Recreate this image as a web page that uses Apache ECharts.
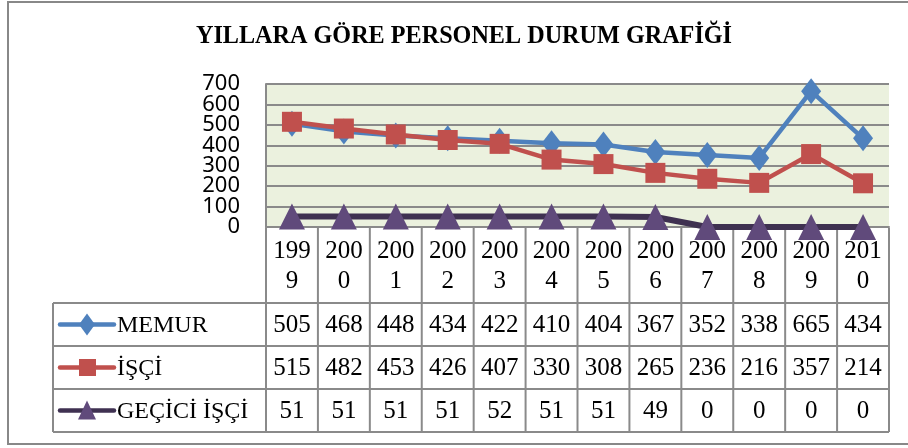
<!DOCTYPE html>
<html lang="tr">
<head>
    <meta charset="UTF-8">
    <title>Yıllara Göre Personel Durum Grafiği</title>
    <script src="https://cdn.jsdelivr.net/npm/echarts@6/dist/echarts.min.js"></script>
    <style>
        html, body { margin: 0; padding: 0; background: #fff; }
        #main { width: 908px; height: 448px; }
    </style>
</head>
<body>
<div id="main"></div>

<script>
    // veriler
    var years = ['1999', '2000', '2001', '2002', '2003', '2004', '2005', '2006', '2007', '2008', '2009', '2010'];
    var memur = [505, 468, 448, 434, 422, 410, 404, 367, 352, 338, 665, 434];
    var isci = [515, 482, 453, 426, 407, 330, 308, 265, 236, 216, 357, 214];
    var geciciIsci = [51, 51, 51, 51, 52, 51, 51, 49, 0, 0, 0, 0];
    var seriesNames = ['MEMUR', 'İŞÇİ', 'GEÇİCİ İŞÇİ'];
    var yTicks = [0, 100, 200, 300, 400, 500, 600, 700];
    var titleText = 'YILLARA GÖRE PERSONEL DURUM GRAFİĞİ';

    var colors = ['#4F81BD', '#C0504D', '#3F3151'];
    var markerColors = ['#4F81BD', '#C0504D', '#604A7B'];
    var symbols = ['diamond', 'rect', 'triangle'];
    var symbolSizes = [[20, 26], [20, 20], [26, 26]];
    var lineWidths = [4.5, 4.5, 6];

    var tableFont = 'Liberation Serif';
    var gridColor = '#8a8a8a';

    var chart = echarts.init(document.getElementById('main'));

    var allData = [memur, isci, geciciIsci];
    var series = [];
    for (var s = 0; s < allData.length; s++) {
        series.push({
            name: seriesNames[s],
            type: 'line',
            data: allData[s],
            symbol: symbols[s],
            symbolSize: symbolSizes[s],
            showAllSymbol: true,
            clip: false,
            lineStyle: { color: colors[s], width: lineWidths[s] },
            itemStyle: { color: markerColors[s] },
            z: 3 + s
        });
    }

    chart.setOption({
        animation: false,
        grid: {
            left: 266,
            right: 19,
            top: 84,
            bottom: 221,
            show: true,
            backgroundColor: '#EBF1DE',
            borderWidth: 0
        },
        xAxis: {
            type: 'category',
            data: years,
            boundaryGap: true,
            axisLine: { show: true, lineStyle: { color: gridColor, width: 2 } },
            axisTick: { show: false },
            axisLabel: { show: false },
            splitLine: { show: false }
        },
        yAxis: {
            type: 'value',
            min: yTicks[0],
            max: yTicks[yTicks.length - 1],
            interval: yTicks[1] - yTicks[0],
            axisLine: { show: true, lineStyle: { color: gridColor, width: 2 } },
            axisTick: { show: false },
            // etiketler üst üste bindiği için aşağıda ayrıca yazılıyor
            axisLabel: { show: false },
            splitLine: { lineStyle: { color: gridColor, width: 2 } }
        },
        series: series
    });

    // veri tablosu
    function buildTable() {
        var x0 = chart.convertToPixel({ xAxisIndex: 0 }, 0);
        var x1 = chart.convertToPixel({ xAxisIndex: 0 }, 1);
        var colW = x1 - x0;
        var left = x0 - colW / 2;
        var right = left + colW * years.length;
        var legendLeft = 53;
        var rows = [228, 303, 346, 389, 432];
        var els = [];
        var lineStyle = { stroke: gridColor, lineWidth: 2 };

        // başlık
        els.push({
            type: 'text', x: 464, y: 36, scaleX: 0.93,
            style: {
                text: titleText,
                font: 'bold 26px "Liberation Serif"',
                fill: '#000', align: 'center', verticalAlign: 'middle'
            }
        });

        // y ekseni etiketleri
        for (var k = 0; k < yTicks.length; k++) {
            els.push({
                type: 'text', x: 240, y: chart.convertToPixel({ yAxisIndex: 0 }, yTicks[k]),
                style: {
                    text: String(yTicks[k]),
                    font: '22px "Noto Sans"',
                    fill: '#000', align: 'right', verticalAlign: 'middle'
                }
            });
        }

        // yatay çizgiler
        for (var r = 1; r < rows.length; r++) {
            els.push({ type: 'line', shape: { x1: legendLeft, y1: rows[r], x2: right, y2: rows[r] }, style: lineStyle });
        }
        // dikey çizgiler
        for (var c = 0; c <= years.length; c++) {
            var xx = left + c * colW;
            els.push({ type: 'line', shape: { x1: xx, y1: rows[0], x2: xx, y2: rows[4] }, style: lineStyle });
        }
        els.push({ type: 'line', shape: { x1: legendLeft, y1: rows[1], x2: legendLeft, y2: rows[4] }, style: lineStyle });

        // yıllar
        for (var i = 0; i < years.length; i++) {
            var cx = chart.convertToPixel({ xAxisIndex: 0 }, i);
            els.push({
                type: 'text',
                x: cx, y: 266,
                style: {
                    text: years[i].slice(0, 3) + '\n' + years[i].slice(3),
                    font: '25px "' + tableFont + '"',
                    lineHeight: 30,
                    fill: '#000',
                    align: 'center',
                    verticalAlign: 'middle'
                }
            });
        }

        // seri satırları
        for (var s = 0; s < allData.length; s++) {
            var cy = (rows[s + 1] + rows[s + 2]) / 2;
            els.push({ type: 'line', shape: { x1: 60, y1: cy, x2: 114, y2: cy },
                style: { stroke: colors[s], lineWidth: 4.5, lineCap: 'round' } });
            els.push({
                type: s === 1 ? 'rect' : 'polygon',
                shape: s === 0 ? { points: [[87, cy - 11], [95, cy], [87, cy + 11], [79, cy]] }
                    : s === 1 ? { x: 79, y: cy - 8.5, width: 17, height: 17 }
                    : { points: [[87, cy - 10], [96, cy + 9], [78, cy + 9]] },
                style: { fill: markerColors[s] }
            });
            els.push({
                type: 'text', x: 117, y: cy + 1,
                style: { text: seriesNames[s], font: '24px "' + tableFont + '"', fill: '#000', verticalAlign: 'middle' }
            });
            for (var i = 0; i < years.length; i++) {
                els.push({
                    type: 'text',
                    x: chart.convertToPixel({ xAxisIndex: 0 }, i), y: cy + 1,
                    style: {
                        text: String(allData[s][i]),
                        font: '25px "' + tableFont + '"',
                        fill: '#000',
                        align: 'center',
                        verticalAlign: 'middle'
                    }
                });
            }
        }

        // dış çerçeve
        els.push({ type: 'rect', shape: { x: 8, y: 2, width: 906, height: 442 },
            style: { fill: 'none', stroke: '#888', lineWidth: 2 } });

        chart.setOption({ graphic: { elements: els } });
    }
    buildTable();
</script>
</body>
</html>
